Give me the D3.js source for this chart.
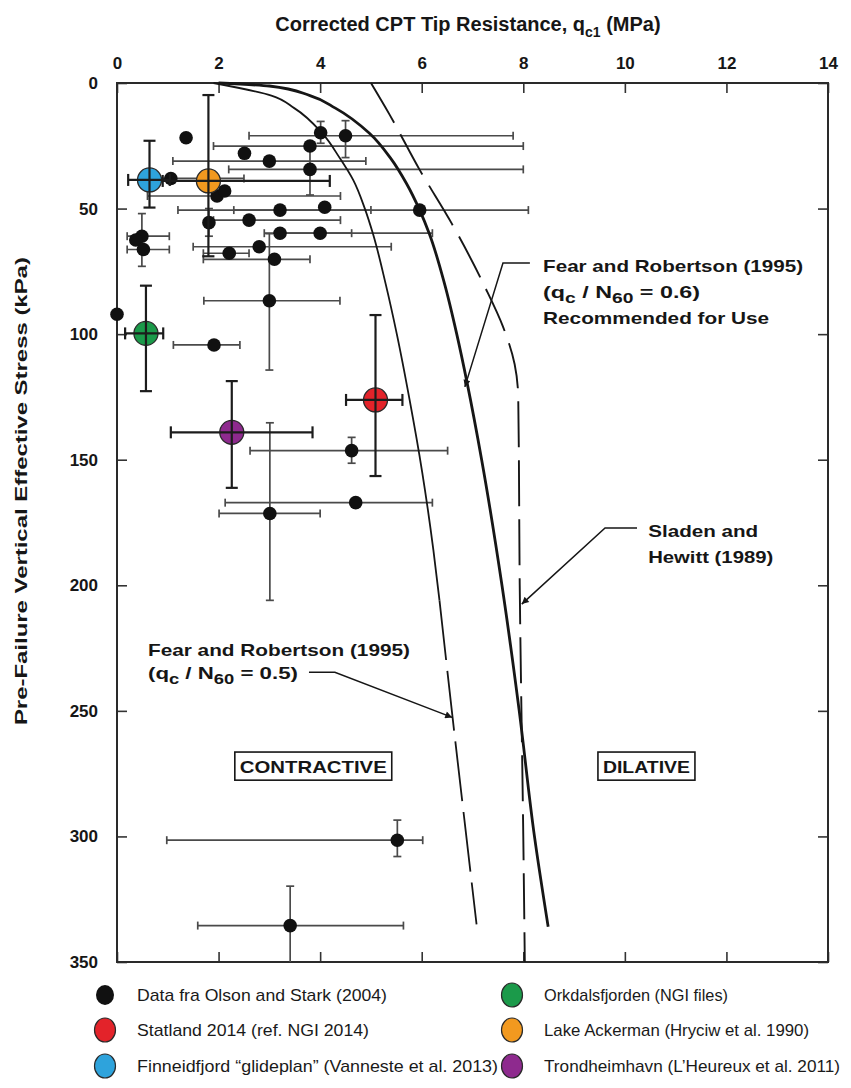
<!DOCTYPE html>
<html>
<head>
<meta charset="utf-8">
<script src="https://cdn.jsdelivr.net/npm/d3@7"></script>
<style>
  html, body { margin: 0; padding: 0; background: #fff; }
  svg { display: block; }
</style>
</head>
<body>
<svg id="chart" width="851" height="1088"></svg>
<script>
// ---- Data -------------------------------------------------------------
// Row layout: [q_c1 (MPa), σ'v0 (kPa), q_c1 min, q_c1 max, σ'v0 min, σ'v0 max]
// null = no error bar on that side
const olsonStark = [
  [1.36, 21.8, null, null, null, null],
  [4.01, 19.8, null, null, 15.3, 24.0],
  [4.50, 21.0, 2.60, 7.80, 15.0, 29.7],
  [3.80, 25.1, 1.90, 8.00, null, null],
  [2.51, 28.0, null, null, null, null],
  [3.00, 31.1, 1.10, 4.90, null, null],
  [3.80, 34.4, 2.20, 8.00, 25.0, 44.6],
  [1.06, 38.0, 0.75, 2.50, null, null],
  [1.97, 45.0, 0.60, 4.40, null, null],
  [2.12, 43.0, null, null, null, null],
  [3.21, 50.6, 1.20, 5.00, null, null],
  [4.09, 49.5, null, null, null, null],
  [5.96, 50.6, 2.30, 8.10, null, null],
  [2.60, 54.6, 1.90, 4.40, null, null],
  [1.81, 55.6, null, null, 50.0, 61.0],
  [3.21, 59.8, 2.90, 4.62, null, null],
  [4.00, 59.8, 3.30, 6.21, null, null],
  [2.80, 65.2, 1.50, 5.40, null, null],
  [2.21, 67.8, 1.70, 2.60, null, null],
  [3.10, 70.2, 1.70, 3.80, null, null],
  [0.49, 61.0, 0.20, 1.03, 52.0, 73.0],
  [0.37, 62.5, null, null, null, null],
  [0.52, 66.3, 0.20, 1.03, null, null],
  [3.00, 86.7, 1.71, 4.39, 60.0, 114.3],
  [0.00, 92.1, null, null, null, null],
  [1.91, 104.3, 1.11, 2.42, null, null],
  [4.62, 146.4, 2.62, 6.51, 141.1, 151.4],
  [3.01, 171.4, 2.01, 4.00, 135.3, 206.0],
  [4.70, 167.1, 2.13, 6.21, null, null],
  [5.52, 301.5, 0.98, 6.02, 293.5, 308.0],
  [3.41, 335.5, 1.59, 5.64, 319.8, 350.0]
];
const statland       = [[5.09, 126.2, 4.51, 5.62, 92.4, 156.5]];
const finneidfjord   = [[0.64, 38.6, 0.22, 1.04, 23.0, 49.6]];
const orkdalsfjorden = [[0.57, 99.7, 0.16, 0.91, 80.7, 122.7]];
const lakeAckerman   = [[1.80, 39.0, 0.90, 4.19, 4.8, 69.0]];
const trondheimhavn  = [[2.26, 139.1, 1.06, 3.85, 118.7, 161.2]];

// Boundary curves: [q_c1 (MPa), σ'v0 (kPa)]
const fearRobertson06 = [
  [2.0, 0], [3.0, 1.2], [3.8, 5], [4.3, 10], [4.97, 20], [5.39, 30],
  [5.70, 40], [5.96, 50.6], [6.15, 60], [6.45, 80], [6.69, 100],
  [6.9, 120], [7.18, 150], [7.58, 200], [7.92, 250], [8.22, 300], [8.49, 336]
];
const fearRobertson05 = [
  [1.9, 0], [3.04, 5], [3.49, 10], [4.04, 20], [4.39, 30], [4.65, 38.6],
  [4.88, 50], [5.04, 60], [5.29, 80], [5.51, 100], [5.76, 126], [6.01, 155],
  [6.23, 186], [6.35, 206], [6.61, 253], [6.85, 295], [7.08, 335]
];
const sladenHewitt = [
  [5.0, 0], [5.37, 12.7], [5.96, 34.6], [6.59, 55.9], [7.24, 81], [7.6, 97],
  [7.83, 112], [7.9, 125], [7.93, 200], [8.0, 300], [8.03, 350]
];

const xTicks = [0, 2, 4, 6, 8, 10, 12, 14];
const yTicks = [0, 50, 100, 150, 200, 250, 300, 350];

const seriesNames = [
  "Data fra Olson and Stark (2004)",
  "Statland 2014 (ref. NGI 2014)",
  "Finneidfjord \u201Cglideplan\u201D (Vanneste et al. 2013)",
  "Orkdalsfjorden (NGI files)",
  "Lake Ackerman (Hryciw et al. 1990)",
  "Trondheimhavn (L\u2019Heureux et al. 2011)"
];
const seriesColors = ["#111111", "#e3232a", "#2ea3dc", "#1b9a4a", "#f2991f", "#8e2a8e"];

// ---- Layout -----------------------------------------------------------
const svg = d3.select("#chart");
const W = 851, H = 1088;
const plotL = 117, plotR = 828, plotT = 83, plotB = 962;
const ink = "#161616";
const sans = "'Liberation Sans', Arial, Helvetica, sans-serif";

svg.append("rect").attr("width", W).attr("height", H).attr("fill", "#fff");

const x = d3.scaleLinear().domain([0, 14]).range([plotL, plotR]);
const y = d3.scaleLinear().domain([0, 350]).range([plotT, plotB]);

// ---- Axes (ticks point inward) -----------------------------------------
const axTop = svg.append("g").attr("transform", `translate(0,${plotT})`)
  .call(d3.axisTop(x).tickValues(xTicks).tickSizeInner(-10).tickSizeOuter(0).tickPadding(14));
const axLeft = svg.append("g").attr("transform", `translate(${plotL},0)`)
  .call(d3.axisLeft(y).tickValues(yTicks).tickSizeInner(-10).tickSizeOuter(0).tickPadding(19));
const axRight = svg.append("g").attr("transform", `translate(${plotR},0)`)
  .call(d3.axisRight(y).tickValues(yTicks).tickSizeInner(-10).tickSizeOuter(0).tickFormat(""));
const axBottom = svg.append("g").attr("transform", `translate(0,${plotB})`)
  .call(d3.axisBottom(x).tickValues(xTicks).tickSizeInner(-10).tickSizeOuter(0).tickFormat(""));

[axTop, axLeft, axRight, axBottom].forEach(g => {
  g.select(".domain").remove();
  g.selectAll(".tick line").attr("stroke", "#333").attr("stroke-width", 1.6);
  g.selectAll(".tick text")
    .attr("fill", ink).attr("font-family", sans)
    .attr("font-size", 17).attr("font-weight", "bold");
});

// plot frame
svg.append("rect")
  .attr("x", plotL).attr("y", plotT)
  .attr("width", plotR - plotL).attr("height", plotB - plotT)
  .attr("fill", "none").attr("stroke", "#2a2a2a").attr("stroke-width", 2);

// axis titles
const xTitle = svg.append("text")
  .attr("x", 468).attr("y", 31)
  .attr("text-anchor", "middle")
  .attr("font-family", sans).attr("font-size", 20).attr("font-weight", "bold")
  .attr("fill", ink);
xTitle.append("tspan").text("Corrected CPT Tip Resistance, q");
xTitle.append("tspan").attr("dy", 6).attr("font-size", 14).text("c1");
xTitle.append("tspan").attr("dy", -6).text(" (MPa)");

svg.append("text")
  .attr("transform", `translate(27,${(y(70) + y(255)) / 2}) rotate(-90)`)
  .attr("text-anchor", "middle")
  .attr("font-family", sans).attr("font-size", 17).attr("font-weight", "bold")
  .attr("fill", ink)
  .attr("textLength", 468).attr("lengthAdjust", "spacingAndGlyphs")
  .text("Pre-Failure Vertical Effective Stress  (kPa)");

// ---- Error bars --------------------------------------------------------
function errorBars(rows, color, width, cap) {
  const g = svg.append("g").attr("stroke", color).attr("stroke-width", width).attr("fill", "none");
  rows.forEach(([q, s, qLo, qHi, sLo, sHi]) => {
    if (qLo !== null || qHi !== null) {
      const a = x(qLo !== null ? qLo : q), b = x(qHi !== null ? qHi : q);
      g.append("line").attr("x1", a).attr("x2", b).attr("y1", y(s)).attr("y2", y(s));
      if (qLo !== null) g.append("line").attr("x1", a).attr("x2", a).attr("y1", y(s) - cap).attr("y2", y(s) + cap);
      if (qHi !== null) g.append("line").attr("x1", b).attr("x2", b).attr("y1", y(s) - cap).attr("y2", y(s) + cap);
    }
    if (sLo !== null || sHi !== null) {
      const a = y(sLo !== null ? sLo : s), b = y(sHi !== null ? sHi : s);
      g.append("line").attr("x1", x(q)).attr("x2", x(q)).attr("y1", a).attr("y2", b);
      if (sLo !== null) g.append("line").attr("x1", x(q) - cap).attr("x2", x(q) + cap).attr("y1", a).attr("y2", a);
      if (sHi !== null && sHi < 350) g.append("line").attr("x1", x(q) - cap).attr("x2", x(q) + cap).attr("y1", b).attr("y2", b);
    }
  });
}

errorBars(olsonStark, "#4a4a4a", 1.7, 4);

// ---- Boundary curves ----------------------------------------------------
const line = d3.line().x(d => x(d[0])).y(d => y(d[1])).curve(d3.curveMonotoneY);

svg.append("path").datum(fearRobertson06)
  .attr("d", line).attr("fill", "none").attr("stroke", ink).attr("stroke-width", 2.8);

svg.append("path").datum(fearRobertson05.filter(d => d[1] <= 206))
  .attr("d", line).attr("fill", "none").attr("stroke", ink).attr("stroke-width", 1.8);
svg.append("path").datum(fearRobertson05.filter(d => d[1] >= 206))
  .attr("d", line).attr("fill", "none").attr("stroke", ink).attr("stroke-width", 1.8)
  .attr("stroke-dasharray", "60 11");

svg.append("path").datum(sladenHewitt)
  .attr("d", line).attr("fill", "none").attr("stroke", ink).attr("stroke-width", 1.9)
  .attr("stroke-dasharray", "46 13");

// ---- Points -------------------------------------------------------------
svg.append("g").selectAll("circle").data(olsonStark).join("circle")
  .attr("cx", d => x(d[0])).attr("cy", d => y(d[1])).attr("r", 6.8)
  .attr("fill", seriesColors[0]);

const coloured = [statland, finneidfjord, orkdalsfjorden, lakeAckerman, trondheimhavn];
coloured.forEach((rows, i) => {
  svg.append("g").selectAll("circle").data(rows).join("circle")
    .attr("cx", d => x(d[0])).attr("cy", d => y(d[1])).attr("r", 12)
    .attr("fill", seriesColors[i + 1]).attr("stroke", "#2a2a2a").attr("stroke-width", 1.3);
  errorBars(rows, "#1c1c1c", 2.2, 6);
});

// ---- Annotations -------------------------------------------------------
const defs = svg.append("defs");
defs.append("marker").attr("id", "arrow")
  .attr("viewBox", "0 0 10 10").attr("refX", 10).attr("refY", 5)
  .attr("markerWidth", 11).attr("markerHeight", 7).attr("markerUnits", "userSpaceOnUse")
  .attr("orient", "auto")
  .append("path").attr("d", "M0,0 L10,5 L0,10 z").attr("fill", ink);

function leader(pts) {
  svg.append("path")
    .attr("d", d3.line()(pts.map(p => [x(p[0]), y(p[1])])))
    .attr("fill", "none").attr("stroke", ink).attr("stroke-width", 1.5)
    .attr("marker-end", "url(#arrow)");
}

function label(q, s, parts, len) {
  const t = svg.append("text").attr("x", x(q)).attr("y", y(s))
    .attr("font-family", sans).attr("font-size", 17).attr("font-weight", "bold")
    .attr("fill", ink);
  parts.forEach(p => {
    const ts = t.append("tspan").text(p.t);
    if (p.sub) ts.attr("dy", 5).attr("font-size", 14);
    if (p.up) ts.attr("dy", -5);
  });
  if (len) t.attr("textLength", len).attr("lengthAdjust", "spacingAndGlyphs");
  return t;
}

// Fear and Robertson, q_c/N60 = 0.6
label(8.39, 75.3, [{ t: "Fear and Robertson (1995)" }], 260);
label(8.39, 85.6, [{ t: "(q" }, { t: "c", sub: true }, { t: " / N", up: true }, { t: "60", sub: true }, { t: " = 0.6)", up: true }], 157);
label(8.39, 96.0, [{ t: "Recommended for Use" }], 226);
leader([[8.13, 71.7], [7.6, 71.7], [6.85, 121]]);

// Sladen and Hewitt
label(10.46, 180.8, [{ t: "Sladen and" }], 110);
label(10.46, 191.1, [{ t: "Hewitt (1989)" }], 125);
leader([[10.24, 177.2], [9.61, 177.2], [7.97, 207.5]]);

// Fear and Robertson, q_c/N60 = 0.5
label(0.61, 228.2, [{ t: "Fear and Robertson (1995)" }], 262);
label(0.61, 237.4, [{ t: "(q" }, { t: "c", sub: true }, { t: " / N", up: true }, { t: "60", sub: true }, { t: " = 0.5)", up: true }], 150);
leader([[3.78, 234.6], [4.29, 234.6], [6.6, 252.6]]);

// Region labels
function regionBox(q0, q1, s0, s1, txt) {
  svg.append("rect")
    .attr("x", x(q0)).attr("y", y(s0))
    .attr("width", x(q1) - x(q0)).attr("height", y(s1) - y(s0))
    .attr("fill", "#fff").attr("stroke", ink).attr("stroke-width", 1.6);
  svg.append("text")
    .attr("x", (x(q0) + x(q1)) / 2).attr("y", (y(s0) + y(s1)) / 2 + 6.5)
    .attr("text-anchor", "middle")
    .attr("font-family", sans).attr("font-size", 17).attr("font-weight", "bold")
    .attr("fill", ink)
    .attr("textLength", x(q1) - x(q0) - 10).attr("lengthAdjust", "spacingAndGlyphs")
    .text(txt);
}
regionBox(2.32, 5.41, 266.4, 277.6, "CONTRACTIVE");
regionBox(9.47, 11.38, 266.4, 277.6, "DILATIVE");

// ---- Legend ---------------------------------------------------------------
const legendPos = [
  [105, 995, 250], [105, 1030, 232], [105, 1066, 361],
  [512, 995, 184], [512, 1030, 265], [512, 1066, 296]
];
const legend = svg.append("g");
seriesNames.forEach((name, i) => {
  const [cx, cy, len] = legendPos[i];
  legend.append("ellipse")
    .attr("cx", cx).attr("cy", cy)
    .attr("rx", i === 0 ? 9 : 10.5).attr("ry", i === 0 ? 10 : 12)
    .attr("fill", seriesColors[i])
    .attr("stroke", i === 0 ? "none" : "#2a2a2a").attr("stroke-width", 1.2);
  legend.append("text")
    .attr("x", cx + 32).attr("y", cy + 6)
    .attr("font-family", "'Liberation Sans Narrow', 'Liberation Sans', Arial, sans-serif")
    .attr("font-size", 17).attr("fill", "#1a1a1a")
    .attr("textLength", len).attr("lengthAdjust", "spacingAndGlyphs")
    .text(name);
});
</script>
</body>
</html>
